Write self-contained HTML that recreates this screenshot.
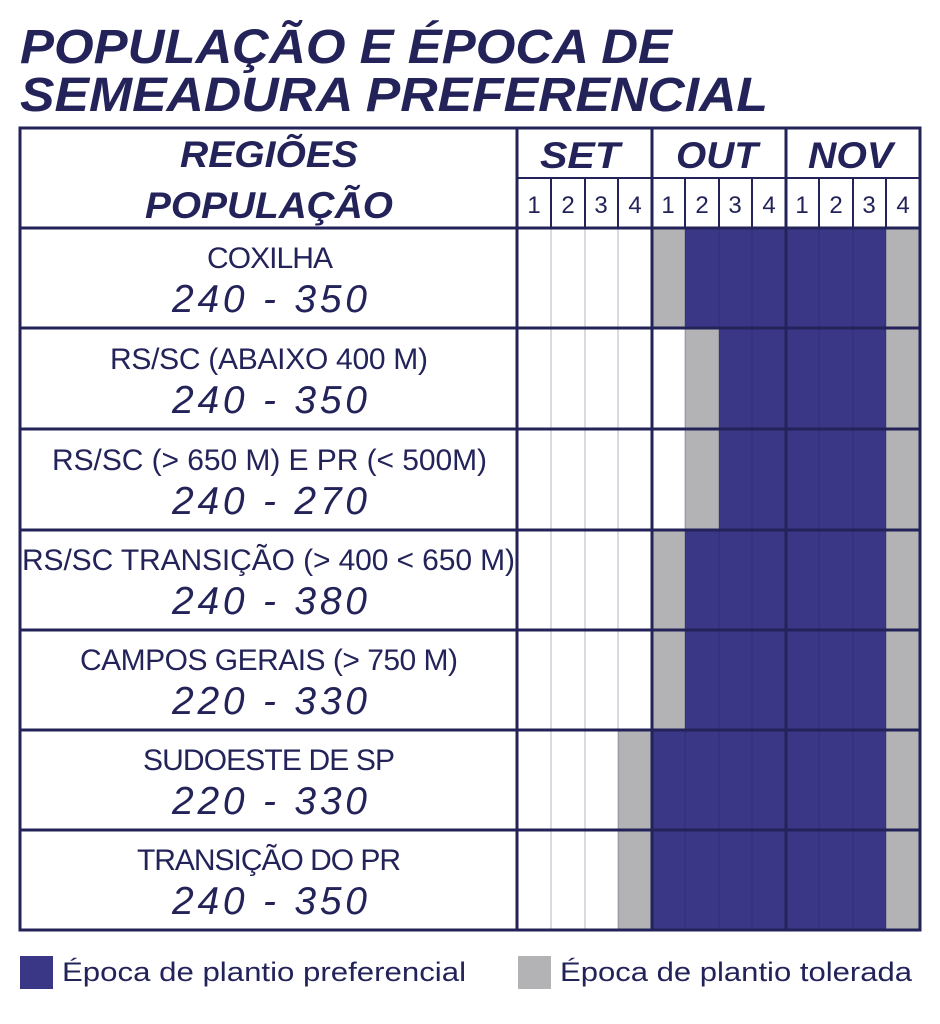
<!DOCTYPE html>
<html><head><meta charset="utf-8"><style>
html,body{margin:0;padding:0;background:#fff;}
svg{display:block;}
</style></head><body>
<svg width="940" height="1024" viewBox="0 0 940 1024" xmlns="http://www.w3.org/2000/svg" font-family="Liberation Sans, sans-serif">
<rect width="940" height="1024" fill="#fff"/>
<g fill="#23235a" font-weight="bold" font-style="italic" font-size="48">
<text x="20" y="63" textLength="652" lengthAdjust="spacingAndGlyphs">POPULAÇÃO E ÉPOCA DE</text>
<text x="20" y="111" textLength="748" lengthAdjust="spacingAndGlyphs">SEMEADURA PREFERENCIAL</text>
</g>
<g>
<rect x="652" y="228" width="33" height="100" fill="#b3b3b5"/><rect x="685" y="228" width="201" height="100" fill="#3b3787"/><rect x="886" y="228" width="34" height="100" fill="#b3b3b5"/>
<rect x="685" y="328" width="34" height="101" fill="#b3b3b5"/><rect x="719" y="328" width="167" height="101" fill="#3b3787"/><rect x="886" y="328" width="34" height="101" fill="#b3b3b5"/>
<rect x="685" y="429" width="34" height="101" fill="#b3b3b5"/><rect x="719" y="429" width="167" height="101" fill="#3b3787"/><rect x="886" y="429" width="34" height="101" fill="#b3b3b5"/>
<rect x="652" y="530" width="33" height="100" fill="#b3b3b5"/><rect x="685" y="530" width="201" height="100" fill="#3b3787"/><rect x="886" y="530" width="34" height="100" fill="#b3b3b5"/>
<rect x="652" y="630" width="33" height="100" fill="#b3b3b5"/><rect x="685" y="630" width="201" height="100" fill="#3b3787"/><rect x="886" y="630" width="34" height="100" fill="#b3b3b5"/>
<rect x="618" y="730" width="34" height="200" fill="#b3b3b5"/><rect x="652" y="730" width="234" height="200" fill="#3b3787"/><rect x="886" y="730" width="34" height="200" fill="#b3b3b5"/>
</g>
<g stroke="#1e1e50" stroke-opacity="0.22" stroke-width="1.5">
<line x1="551" y1="228" x2="551" y2="930"/><line x1="585" y1="228" x2="585" y2="930"/><line x1="618" y1="228" x2="618" y2="930"/>
<line x1="685" y1="228" x2="685" y2="930"/><line x1="719" y1="228" x2="719" y2="930"/><line x1="752" y1="228" x2="752" y2="930"/>
<line x1="819" y1="228" x2="819" y2="930"/><line x1="853" y1="228" x2="853" y2="930"/><line x1="886" y1="228" x2="886" y2="930"/>
</g>
<g stroke="#23235a" stroke-width="2">
<line x1="551" y1="178" x2="551" y2="228"/><line x1="585" y1="178" x2="585" y2="228"/><line x1="618" y1="178" x2="618" y2="228"/>
<line x1="685" y1="178" x2="685" y2="228"/><line x1="719" y1="178" x2="719" y2="228"/><line x1="752" y1="178" x2="752" y2="228"/>
<line x1="819" y1="178" x2="819" y2="228"/><line x1="853" y1="178" x2="853" y2="228"/><line x1="886" y1="178" x2="886" y2="228"/>
<line x1="517" y1="178" x2="920" y2="178"/>
</g>
<g stroke="#23235a" stroke-width="3" fill="none">
<rect x="20" y="128" width="900" height="802"/>
<line x1="517" y1="128" x2="517" y2="930"/>
<line x1="652" y1="128" x2="652" y2="930"/>
<line x1="786" y1="128" x2="786" y2="930"/>
<line x1="20" y1="228" x2="920" y2="228"/>
<line x1="20" y1="328" x2="920" y2="328"/>
<line x1="20" y1="429" x2="920" y2="429"/>
<line x1="20" y1="530" x2="920" y2="530"/>
<line x1="20" y1="630" x2="920" y2="630"/>
<line x1="20" y1="730" x2="920" y2="730"/>
<line x1="20" y1="830" x2="920" y2="830"/>
</g>
<g fill="#23235a" font-style="italic" font-weight="bold">
<text x="180" y="167" font-size="37" textLength="178" lengthAdjust="spacingAndGlyphs">REGIÕES</text>
<text x="145" y="218" font-size="37" textLength="248" lengthAdjust="spacingAndGlyphs">POPULAÇÃO</text>
<text x="540" y="168" font-size="37" textLength="80" lengthAdjust="spacingAndGlyphs">SET</text>
<text x="676" y="168" font-size="37" textLength="82" lengthAdjust="spacingAndGlyphs">OUT</text>
<text x="808" y="168" font-size="37" textLength="85" lengthAdjust="spacingAndGlyphs">NOV</text>
</g>
<g fill="#23235a" font-size="24" text-anchor="middle">
<text x="534" y="213">1</text><text x="568" y="213">2</text><text x="601" y="213">3</text><text x="635" y="213">4</text>
<text x="668" y="213">1</text><text x="702" y="213">2</text><text x="735" y="213">3</text><text x="769" y="213">4</text>
<text x="802" y="213">1</text><text x="836" y="213">2</text><text x="869" y="213">3</text><text x="903" y="213">4</text>
</g>
<g fill="#23235a" font-size="30" lengthAdjust="spacingAndGlyphs">
<text x="207" y="268" textLength="126">COXILHA</text>
<text x="110" y="369" textLength="318">RS/SC (ABAIXO 400 M)</text>
<text x="52" y="470" textLength="435">RS/SC (&gt; 650 M) E PR (&lt; 500M)</text>
<text x="22" y="570" textLength="493">RS/SC TRANSIÇÃO (&gt; 400 &lt; 650 M)</text>
<text x="80" y="670" textLength="378">CAMPOS GERAIS (&gt; 750 M)</text>
<text x="143" y="770" textLength="252">SUDOESTE DE SP</text>
<text x="137" y="870" textLength="264">TRANSIÇÃO DO PR</text>
</g>
<g fill="#23235a" font-size="39" font-style="italic" lengthAdjust="spacing">
<text x="172" y="312" textLength="195">240 - 350</text>
<text x="172" y="413" textLength="195">240 - 350</text>
<text x="172" y="514" textLength="195">240 - 270</text>
<text x="172" y="614" textLength="195">240 - 380</text>
<text x="172" y="714" textLength="195">220 - 330</text>
<text x="172" y="814" textLength="195">220 - 330</text>
<text x="172" y="914" textLength="195">240 - 350</text>
</g>
<rect x="20" y="956" width="33" height="33" fill="#3b3787"/>
<rect x="518" y="956" width="33" height="33" fill="#b3b3b5"/>
<g fill="#23235a" font-size="27">
<text x="62" y="981" textLength="404" lengthAdjust="spacingAndGlyphs">Época de plantio preferencial</text>
<text x="560" y="981" textLength="352" lengthAdjust="spacingAndGlyphs">Época de plantio tolerada</text>
</g>
</svg>
</body></html>
